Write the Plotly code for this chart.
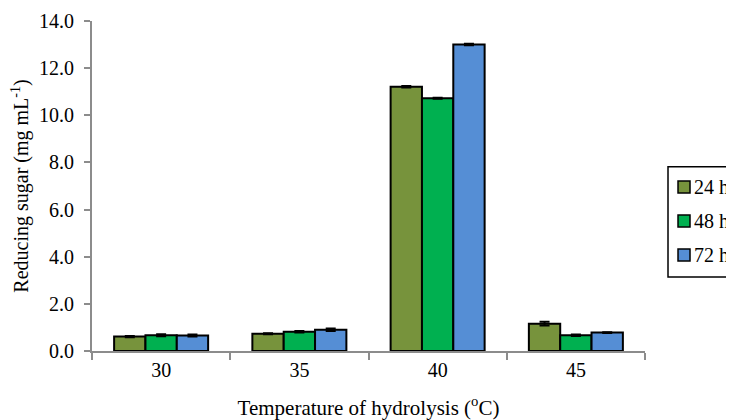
import plotly.graph_objects as go

categories = ["30", "35", "40", "45"]
series_names = ["24 h", "48 h", "72 h"]
v24 = [0.61, 0.73, 11.21, 1.16]
v48 = [0.67, 0.82, 10.72, 0.67]
v72 = [0.66, 0.90, 13.00, 0.78]
e24 = [0.03, 0.02, 0.03, 0.08]
e48 = [0.04, 0.03, 0.02, 0.03]
e72 = [0.04, 0.05, 0.03, 0.02]
colors = ["#77933C", "#00B050", "#558ED5"]

fig = go.Figure()
for name, vals, errs, col in zip(series_names, [v24, v48, v72], [e24, e48, e72], colors):
    fig.add_trace(go.Bar(
        x=categories, y=vals, name=name, showlegend=False,
        marker=dict(color=col, line=dict(color="black", width=2)),
        error_y=dict(type="data", array=errs, color="black", thickness=2, width=5),
    ))

font = "Times New Roman"
tfont = dict(family=font, size=20, color="black")

# Legend drawn as a boxed key at the right of the plot (paper coordinates)
shapes = [dict(type="rect", xref="paper", yref="paper", x0=1.0416, x1=1.20, y0=0.224, y1=0.558,
               line=dict(color="black", width=1.5), fillcolor="white", layer="above")]
annotations = []
item_y = [0.497, 0.394, 0.291]
for name, col, yy in zip(series_names, colors, item_y):
    shapes.append(dict(type="rect", xref="paper", yref="paper",
                       x0=1.0597, x1=1.0814, y0=yy - 0.018, y1=yy + 0.018,
                       line=dict(color="black", width=1.5), fillcolor=col, layer="above"))
    annotations.append(dict(text=name, xref="paper", yref="paper", x=1.0850, y=yy,
                            xanchor="left", yanchor="middle", showarrow=False, font=tfont))

fig.update_layout(
    width=726, height=412,
    margin=dict(l=84, r=89, t=13, b=69, autoexpand=False),
    barmode="group", bargap=0.32, bargroupgap=0,
    plot_bgcolor="white", paper_bgcolor="white",
    font=tfont,
    showlegend=False,
    shapes=shapes, annotations=annotations,
    xaxis=dict(
        title=dict(text="Temperature of hydrolysis (<sup>o</sup>C)", standoff=20,
                   font=dict(family=font, size=21, color="black")),
        tickfont=tfont, automargin=False,
        showline=True, linecolor="#8c8c8c", linewidth=2,
        ticks="outside", tickson="boundaries", ticklen=7, tickcolor="#8c8c8c", tickwidth=2,
        showgrid=False,
    ),
    yaxis=dict(
        title=dict(text="Reducing sugar (mg mL<sup>-1</sup>)", standoff=6, font=tfont),
        tickfont=tfont, automargin=False, ticklabelstandoff=6,
        range=[0, 14], dtick=2, tickformat=".1f",
        showline=True, linecolor="#8c8c8c", linewidth=2,
        ticks="outside", ticklen=6, tickcolor="#8c8c8c", tickwidth=2,
        showgrid=False, zeroline=False,
    ),
)

fig.write_html("out.html")
